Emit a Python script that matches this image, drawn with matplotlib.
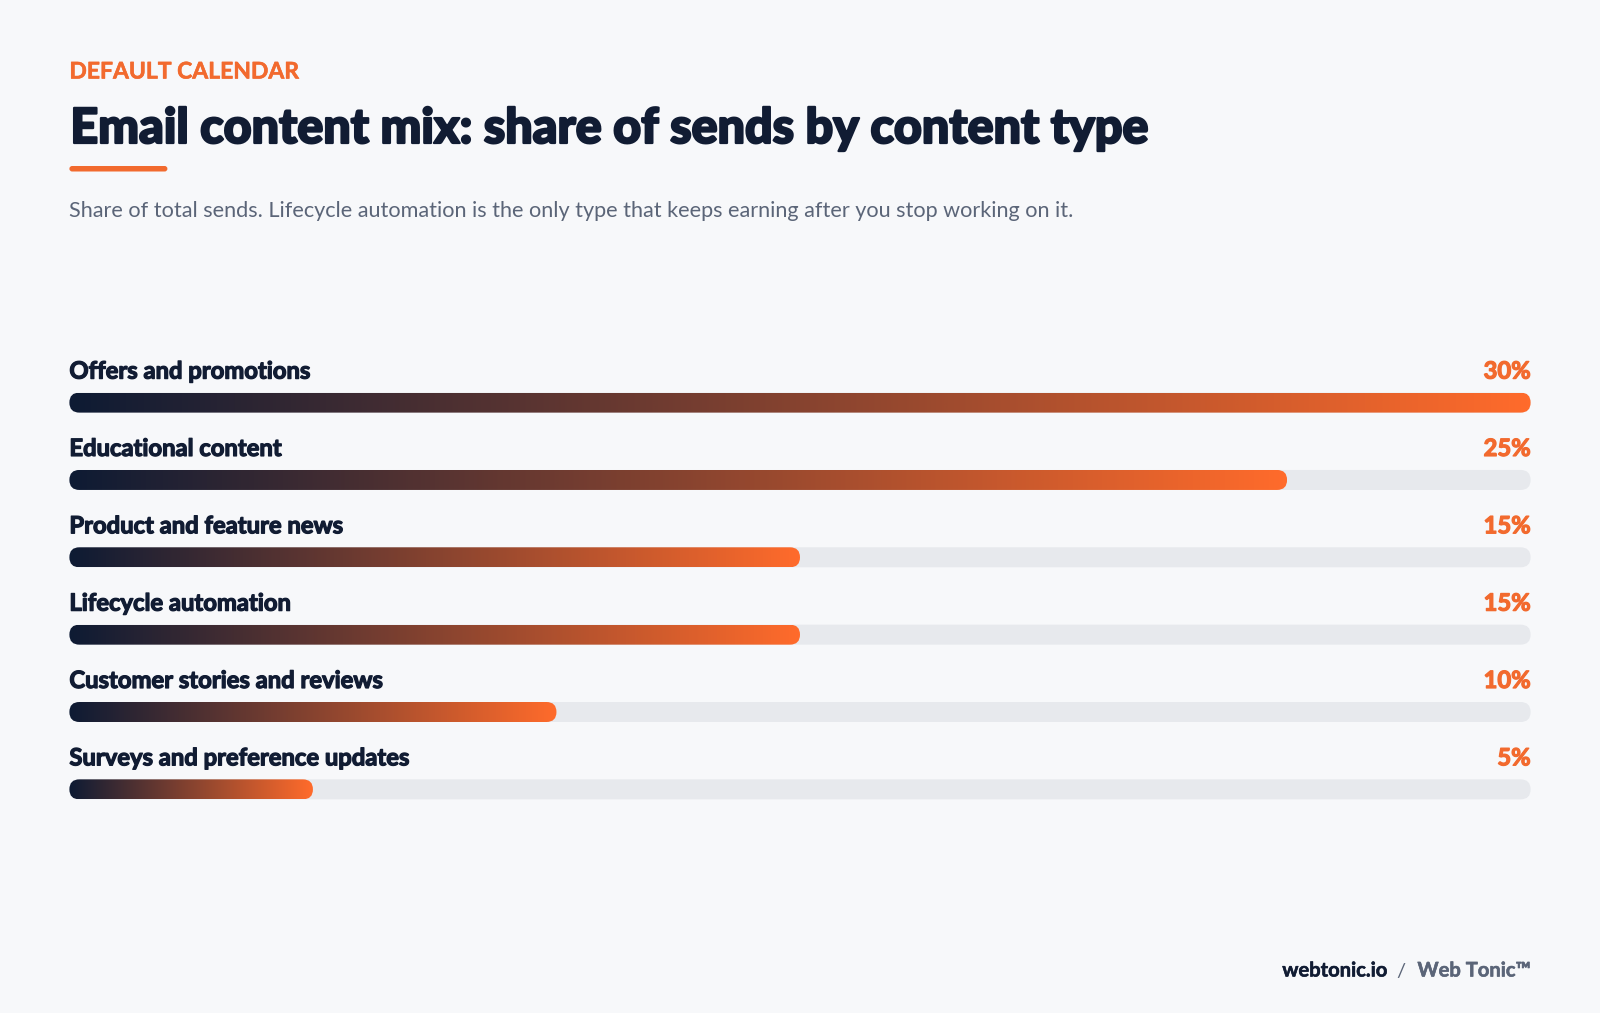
import matplotlib
matplotlib.use("Agg")
import matplotlib.pyplot as plt
import numpy as np
from matplotlib.patches import FancyBboxPatch
from matplotlib.colors import LinearSegmentedColormap
from matplotlib.font_manager import FontProperties
from matplotlib.textpath import TextToPath
import matplotlib.patheffects as pe

# ---------------- data ----------------
categories = [
    "Offers and promotions",
    "Educational content",
    "Product and feature news",
    "Lifecycle automation",
    "Customer stories and reviews",
    "Surveys and preference updates",
]
shares = [30, 25, 15, 15, 10, 5]
value_labels = ["30%", "25%", "15%", "15%", "10%", "5%"]
scale_max = 30

kicker = "DEFAULT CALENDAR"
title = "Email content mix: share of sends by content type"
subtitle = ("Share of total sends. Lifecycle automation is the only type that "
            "keeps earning after you stop working on it.")
footer_site = "webtonic.io"
footer_sep = "/"
footer_brand = "Web Tonic\u2122"

# ---------------- style ----------------
W, H, DPI = 1600, 1013, 100
FONT = "Lato"
BG = "#F7F8FA"
NAVY = "#111C33"
ORANGE = "#F26A2E"
BAR_START = "#0E1B34"
BAR_END = "#FF6B2B"
TRACK = "#E7E9ED"
GRAY = "#5B6578"

X0, X1 = 69.4, 1530.6
ROW0 = 402.6      # centre of first bar (px)
STEP = 77.35      # row spacing (px)
BAR_H = 20.0      # bar thickness (px)

plt.rcParams["font.family"] = [FONT, "DejaVu Sans"]

ttp = TextToPath()


def width_px(s, size, weight):
    prop = FontProperties(family=FONT, weight=weight, size=size)
    w, h, d = ttp.get_text_width_height_descent(s, prop, ismath=False)
    return w * DPI / 72.0


def fit_size(s, weight, target_px):
    return 20.0 * target_px / width_px(s, 20.0, weight)


def heavy(color, lw):
    return [pe.withStroke(linewidth=lw, foreground=color)]


fig = plt.figure(figsize=(W / DPI, H / DPI), dpi=DPI, facecolor=BG)
ov = fig.add_axes([0, 0, 1, 1])
ov.set_xlim(0, W)
ov.set_ylim(H, 0)
ov.axis("off")

# ---------------- header ----------------
ov.text(X0, 78.5, kicker, fontsize=16.5, fontweight="bold", color=ORANGE,
        ha="left", va="baseline", path_effects=heavy(ORANGE, 0.4))
ov.text(X0 + 1, 143, title, fontsize=fit_size(title, "black", 1078), fontweight="black",
        color=NAVY, ha="left", va="baseline", path_effects=heavy(NAVY, 1.6))
ov.add_patch(FancyBboxPatch((X0, 166), 98, 5.5,
                            boxstyle="round,pad=0,rounding_size=2.75",
                            facecolor=ORANGE, edgecolor="none", transform=ov.transData))
ov.text(X0, 217, subtitle, fontsize=fit_size(subtitle, "normal", 1006), fontweight="normal",
        color=GRAY, ha="left", va="baseline")

# ---------------- bars ----------------
n = len(categories)
top_px = ROW0 - 0.5 * STEP
bot_px = ROW0 + (n - 0.5) * STEP
ax = fig.add_axes([X0 / W, 1 - bot_px / H, (X1 - X0) / W, (bot_px - top_px) / H])
ax.set_facecolor("none")
ax.axis("off")

px_x = (X1 - X0) / scale_max
px_y = STEP
aspect = px_x / px_y
hh = (BAR_H / 2) / px_y
r = (BAR_H / 2) / px_x * 0.999

cmap = LinearSegmentedColormap.from_list("navy_orange", [BAR_START, BAR_END])
grad = np.linspace(0, 1, 512).reshape(1, -1)

label_size = fit_size(categories[0], "bold", 241)
label_off = 24.0 / px_y

for i, (cat, v, lab) in enumerate(zip(categories, shares, value_labels)):
    track = FancyBboxPatch((0, i - hh), scale_max, 2 * hh,
                           boxstyle=f"round,pad=0,rounding_size={r}",
                           mutation_aspect=aspect, facecolor=TRACK, edgecolor="none")
    ax.add_patch(track)
    bar = FancyBboxPatch((0, i - hh), v, 2 * hh,
                         boxstyle=f"round,pad=0,rounding_size={r}",
                         mutation_aspect=aspect, facecolor="none", edgecolor="none")
    ax.add_patch(bar)
    im = ax.imshow(grad, cmap=cmap, aspect="auto", extent=(0, v, i + hh, i - hh),
                   interpolation="bilinear", zorder=2)
    im.set_clip_path(bar)
    ax.text(0, i - label_off, cat, fontsize=label_size, fontweight="bold", color=NAVY,
            ha="left", va="baseline", path_effects=heavy(NAVY, 0.9))
    ax.text(scale_max, i - label_off, lab, fontsize=label_size, fontweight="bold",
            color=ORANGE, ha="right", va="baseline", path_effects=heavy(ORANGE, 0.9))

ax.set_xlim(0, scale_max)
ax.set_ylim(n - 0.5, -0.5)

# ---------------- footer ----------------
fsize = 14.5
fy = 976.5
w_brand = width_px(footer_brand, fsize, "bold")
w_sep = width_px(footer_sep, fsize, "normal")
ov.text(X1, fy, footer_brand, fontsize=fsize, fontweight="bold", color=GRAY,
        ha="right", va="baseline", path_effects=heavy(GRAY, 0.4))
x_sep = X1 - w_brand - 12
ov.text(x_sep, fy, footer_sep, fontsize=fsize, fontweight="normal", color=GRAY,
        ha="right", va="baseline")
ov.text(x_sep - w_sep - 9, fy, footer_site, fontsize=fsize, fontweight="bold",
        color=NAVY, ha="right", va="baseline", path_effects=heavy(NAVY, 0.4))

fig.savefig("out.png", dpi=DPI, facecolor=BG)
